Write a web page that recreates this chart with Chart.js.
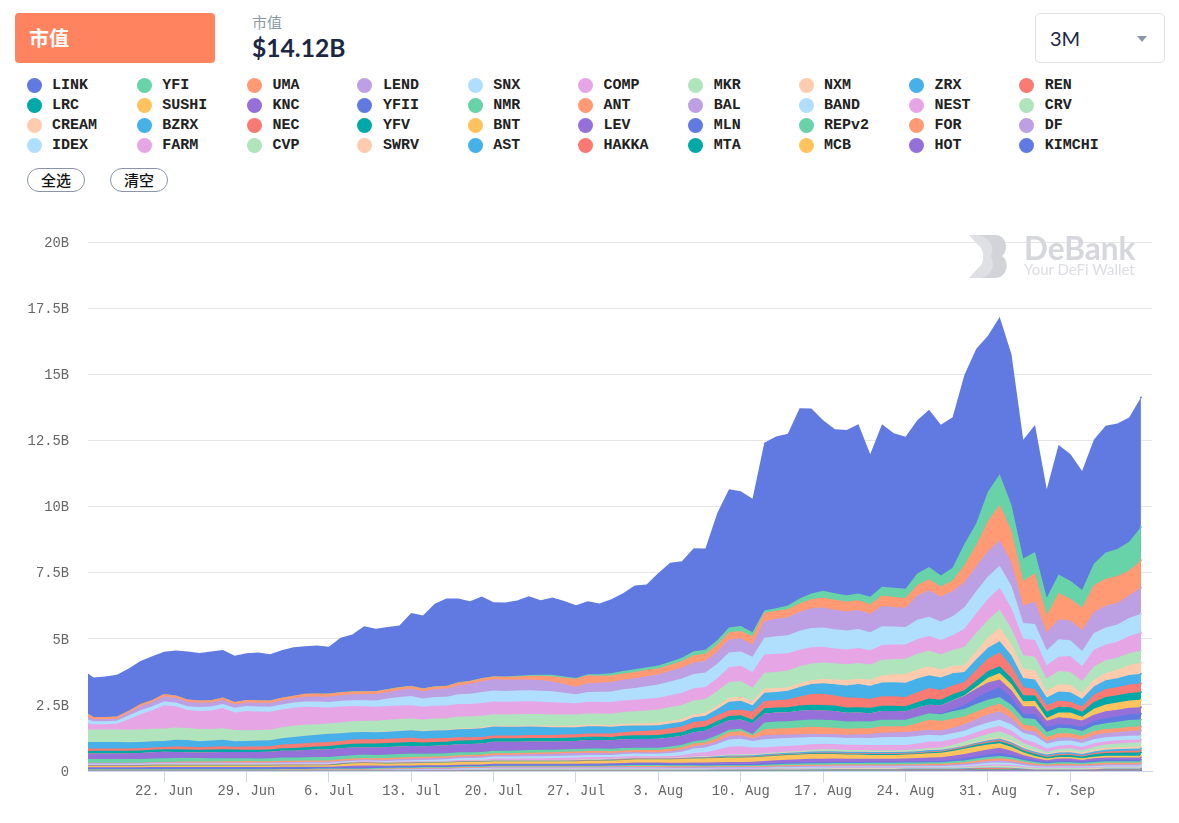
<!DOCTYPE html>
<html><head><meta charset="utf-8">
<script src="https://cdn.jsdelivr.net/npm/chart.js@4"></script>
<style>
html,body{margin:0;padding:0;background:#fff;width:1179px;height:823px;overflow:hidden}
body{position:relative;font-family:Lato,"Noto Sans CJK SC",sans-serif}
.abs{position:absolute}
#tab{left:15px;top:13px;width:200px;height:50px;background:#ff835f;border-radius:4px;color:#fff;font:700 20px/50px Lato,"Noto Sans CJK SC";text-indent:14px}
#cap{left:252px;top:12px;color:#8a9aa8;font:15px/20px "Noto Sans CJK SC"}
#val{left:252px;top:32px;color:#1b2744;font:700 24.6px/32px Lato}
#sel{left:1035px;top:13px;width:128px;height:48px;border:1.5px solid #dfe1e6;border-radius:5px;color:#1b2744;font:20px/48px Lato;text-indent:14px}
#sel i{position:absolute;right:17px;top:22px;border:5px solid transparent;border-top:6px solid #8d96ab;border-bottom:0}
.dot{position:absolute;width:15px;height:15px;border-radius:50%}
.lab{position:absolute;font:700 15px/16px "Liberation Mono";color:#222;white-space:pre}
.btn{position:absolute;top:168px;width:56px;height:22px;border:1.5px solid #8a93ab;border-radius:12px;text-align:center;color:#111;font:500 15px/22px "Noto Sans CJK SC"}
#chart{position:absolute;left:0;top:230px}
#wm{left:969px;top:235px;width:170px;height:45px}
</style></head><body>
<div class="abs" id="tab">市值</div>
<div class="abs" id="cap">市值</div>
<div class="abs" id="val">$14.12B</div>
<div class="abs" id="sel">3M<i></i></div>
<div id="legend"></div>
<div class="btn" style="left:27px">全选</div>
<div class="btn" style="left:110px">清空</div>
<canvas id="chart" width="1179" height="593"></canvas>
<svg class="abs" id="wm" viewBox="0 0 170 45">
<path d="M0 0H15C30 0 30 43 15 43H0L9 33C16 30 16 13 9 10Z" fill="#dfe0e5"/>
<path d="M8 0H26C38 0 40 16 33 21C41 26 39 43 26 43H12C24 40 26 30 22 21C26 12 22 3 8 0Z" fill="#d2d4da"/>
<text x="55" y="25" font-family="Lato" font-weight="700" font-size="31.5" fill="#d5d7dd">DeBank</text>
<text x="55" y="40" font-family="Lato" font-size="15" fill="#dcdde2">Your DeFi Wallet</text>
</svg>
<script>
const names=["LINK","YFI","UMA","LEND","SNX","COMP","MKR","NXM","ZRX","REN","LRC","SUSHI","KNC","YFII","NMR","ANT","BAL","BAND","NEST","CRV","CREAM","BZRX","NEC","YFV","BNT","LEV","MLN","REPv2","FOR","DF","IDEX","FARM","CVP","SWRV","AST","HAKKA","MTA","MCB","HOT","KIMCHI"];
const palette=["#617ae1","#68d2a8","#ff9a75","#bda0e3","#b0dffd","#e6a6e6","#b0e4bd","#ffcbae","#45b1e8","#f87a72","#00a8a8","#ffc35d","#9570d8"];
// days relative to the 22 Jun tick
const days=[-6.46,-6,-5,-4,-3,-2,-1,0,1,2,3,4,5,6,7,8,9,10,11,12,13,14,15,16,17,18,19,20,21,22,23,24,25,26,27,28,29,30,31,32,33,34,35,36,37,38,39,40,41,42,43,44,45,46,47,48,49,50,51,52,53,54,55,56,57,58,59,60,61,62,63,64,65,66,67,68,69,70,71,72,73,74,75,76,77,78,79,80,81,82,83];
const tickDays=[0,7,14,21,28,35,42,49,56,63,70,77];
const tickLabels=["22. Jun","29. Jun","6. Jul","13. Jul","20. Jul","27. Jul","3. Aug","10. Aug","17. Aug","24. Aug","31. Aug","7. Sep"];
const yTicks=[0,250,500,750,1000,1250,1500,1750,2000];
// market cap per token, unit = $10M
const LINK=[152, 150,154,158,160,162,165,160, 170,181,180,184,180,175,177, 180,175,180,183,180,182,177, 205,215,245,235,235,233,275, 275,312,330,317,300,308,280, 280,285,298,282,293,285,275, 276,268,280,295,317,313,350, 375,365,390,383,480,523,510, 505,635,650,650,720,700,645, 620,625,640,540,615,585,575, 580,595,570,570,640,660,590, 595,570,450,480,410,490,480, 450,470,480,475,470,490];
const YFI=[0, 0,0,0,0,0,0,0, 0,0,0,0,0,0,0, 0,0,0,0,0,0,1, 1,1,1,1,1,1,1, 1,1,1,1,1,1,1, 1,2,3,4,5,5,3, 4,6,9,9,10,10,11, 11,13,15,15,16,18,19, 15,8,10,14,18,22,25, 25,24,26,28,33,34,35, 43,46,42,48,79,82,110, 115,97,85,80,66,70,68, 66,80,99,102,109,125];
const UMA=[12, 8,8,8,8,9,9,9, 9,9,9,9,9,9,10, 10,10,10,10,11,11,11, 11,11,11,11,10,10,10, 10,10,10,11,11,11,10, 12,12,14,16,20,24,30, 30,26,24,24,24,24,23, 23,24,27,27,27,27,28, 31,32,30,30,32,34,38, 38,37,37,36,40,38,37, 40,42,39,40,66,80,115, 135,120,94,108,66,100,82, 85,102,103,102,95,104];
const LEND=[10, 8,8,8,10,15,15,19, 18,17,16,15,15,13,13, 14,14,15,16,18,19,20, 21,22,23,24,25,27,28, 28,30,31,34,38,41,43, 42,41,40,40,37,33,29, 33,34,36,36,37,38,38, 40,42,44,44,46,50,50, 47,63,66,68,72,75,76, 74,72,72,70,76,74,73, 92,100,93,95,94,95,96, 96,90,65,85,67,75,75, 80,80,82,82,85,99];
const SNX=[15, 11,11,11,14,15,15,14, 14,14,15,15,16,18,19, 19,19,19,20,20,21,21, 22,22,23,24,28,32,35, 31,33,33,36,38,42,42, 41,42,42,42,42,38,34, 37,38,40,42,44,48,50, 52,54,54,55,55,55,54, 57,63,66,68,72,73,73, 72,72,72,68,71,68,66, 72,73,70,72,82,84,85, 84,84,59,60,57,67,60, 58,63,64,65,68,71];
const COMP=[23, 20,20,22,40,58,70,88, 80,68,68,70,76,66,73, 70,68,67,68,68,65,60, 60,58,55,53,52,51,50, 48,48,48,48,48,48,48, 48,48,48,46,46,44,42, 44,44,44,44,44,44,44, 45,46,46,46,48,56,57, 60,69,69,66,63,61,59, 56,56,56,54,56,55,54, 56,55,54,56,69,74,80, 82,77,63,64,50,54,60, 55,64,60,60,64,69];
const MKR=[47, 47,47,47,47,47,47,47, 47,46,46,44,44,42,40, 40,40,42,42,42,40,38, 40,40,41,42,44,45,44, 43,44,44,45,44,43,43, 43,44,44,44,43,43,42, 43,43,44,45,46,48,50, 52,53,53,52,55,60,59, 50,60,62,63,64,64,63, 62,60,60,58,60,58,57, 60,60,58,60,69,70,67, 67,60,52,51,47,50,50, 46,50,48,46,46,45];
const NXM=[0, 0,0,0,0,0,0,0, 0,0,0,0,0,0,0, 0,0,0,0,0,0,1, 1,1,1,1,1,1,1, 2,2,2,3,3,4,4, 4,4,4,5,5,5,6, 6,6,6,7,8,9,10, 10,11,11,11,13,15,16, 16,16,14,13,14,14,16, 18,20,20,22,26,30,34, 34,34,30,28,25,30,38, 53,42,34,35,25,27,27, 22,25,28,32,38,42];
const ZRX=[25, 25,25,25,24,24,24,23, 25,25,23,23,24,21,21, 22,22,24,27,28,29,31, 29,28,28,27,27,27,28, 28,29,29,30,31,33,34, 33,33,32,31,30,28,27, 27,27,25,24,22,20,18, 18,18,18,19,24,32,34, 24,31,31,33,36,38,40, 42,46,52,50,52,53,54, 52,48,47,46,38,40,40, 42,40,34,37,29,34,36, 29,31,33,34,36,37];
const REN=[9, 8,8,8,8,8,9,9, 11,11,10,11,12,11,13, 13,13,14,15,15,15,15, 15,16,16,16,16,16,16, 14,14,14,13,12,11,10, 10,10,11,11,11,12,12, 12,12,13,14,15,17,19, 20,20,22,22,22,22,21, 31,28,28,30,34,40,42, 38,38,36,34,36,36,35, 38,40,37,34,31,40,48, 53,45,31,23,25,24,21, 20,28,30,30,32,33];
const LRC=[10, 11,11,11,10,10,9,9, 10,10,10,10,10,9,8, 8,8,9,10,11,12,13, 13,14,14,15,15,15,15, 14,14,14,14,14,14,13, 13,13,13,13,13,13,13, 13,13,13,13,14,14,14, 15,15,16,16,16,16,16, 13,19,19,19,20,20,21, 21,20,20,20,20,20,19, 21,23,21,22,19,23,25, 25,24,23,21,23,22,20, 19,25,28,28,28,28];
const SUSHI=[0, 0,0,0,0,0,0,0, 0,0,0,0,0,0,0, 0,0,0,0,0,0,0, 0,0,0,0,0,0,0, 0,0,0,0,0,0,0, 0,0,0,0,0,0,0, 0,0,0,0,0,0,0, 0,0,0,0,0,0,0, 0,0,0,0,0,0,0, 0,0,0,0,0,0,0, 0,0,0,1,2,8,18, 25,22,19,20,11,18,21, 14,23,26,27,28,29];
const KNC=[21, 21,21,21,22,23,24,25, 23,21,21,23,24,24,24, 25,25,26,26,27,28,29, 29,29,28,28,29,29,29, 29,30,30,30,31,32,34, 34,33,33,32,32,31,31, 32,32,32,33,33,33,34, 34,34,34,34,38,36,35, 41,34,34,34,36,36,35, 35,33,33,32,33,33,32, 33,32,31,33,35,35,35, 29,28,28,30,23,25,25, 24,25,25,25,24,24];
const YFII=[0, 0,0,0,0,0,0,0, 0,0,0,0,0,0,0, 0,0,0,0,0,0,0, 0,0,0,0,0,0,0, 0,0,0,0,0,0,0, 0,0,0,0,0,0,0, 0,0,0,0,0,0,0, 0,0,0,0,0,0,0, 0,0,0,0,0,0,0, 0,0,0,0,0,0,0, 0,0,3,8,15,22,30, 37,28,16,18,19,14,13, 16,16,20,21,22,22];
const NMR=[14, 14,14,14,14,14,14,14, 14,14,13,12,11,11,10, 10,11,12,12,12,13,13, 13,13,13,13,13,13,13, 11,11,11,11,10,10,10, 10,10,10,10,9,9,9, 9,9,9,9,9,9,9, 9,9,9,9,10,9,9, 6,26,26,26,27,28,28, 28,27,26,25,25,25,25, 25,25,26,28,29,30,28, 25,25,25,28,19,21,19, 19,21,22,24,26,27];
const ANT=[1, 1,1,1,1,1,1,2, 3,4,4,4,5,5,6, 5,5,5,5,5,5,5, 5,5,5,5,6,6,6, 6,6,6,6,6,6,6, 6,6,6,6,6,6,6, 7,7,7,7,7,8,8, 9,9,10,10,12,15,16, 10,23,24,24,26,26,26, 24,23,23,22,24,22,21, 30,38,36,35,29,28,28, 29,24,19,20,16,16,15, 14,15,15,15,16,15];
const BAL=[3, 3,3,3,3,3,3,3, 3,3,3,3,3,3,3, 3,3,4,4,4,4,4, 4,4,4,4,5,5,6, 6,6,6,6,6,6,6, 6,7,7,8,8,9,9, 8,8,7,7,6,6,6, 7,8,9,10,11,13,13, 10,15,14,13,12,12,11, 12,12,13,15,17,18,19, 19,19,19,20,25,27,30, 32,25,13,16,9,13,13, 12,16,16,16,18,19];
const BAND=[2, 2,2,2,2,2,2,2, 2,2,2,2,2,2,2, 2,2,2,2,3,3,3, 3,3,3,3,3,4,4, 4,5,5,6,6,7,8, 8,8,8,8,8,8,8, 8,8,8,9,9,9,9, 11,13,17,18,22,27,28, 25,30,30,30,30,28,26, 26,26,27,27,30,31,31, 28,25,22,22,21,22,23, 23,23,23,25,19,18,16, 15,15,15,15,15,16];
const NEST=[2, 2,2,2,2,2,2,2, 2,2,2,2,2,2,2, 2,2,2,2,2,2,2, 2,2,3,3,3,3,3, 3,3,3,4,4,4,5, 5,5,6,6,7,8,8, 8,8,7,7,7,6,6, 7,9,13,15,21,30,31, 25,23,22,21,21,21,21, 20,20,20,20,20,20,19, 22,25,23,22,19,20,21, 21,20,15,18,13,13,13, 13,14,13,12,11,10];
const CRV=[1, 1,1,1,1,1,1,1, 1,1,1,1,1,1,1, 1,1,1,1,1,1,1, 1,1,1,1,1,1,1, 1,1,1,1,1,1,1, 1,1,1,1,1,1,1, 1,1,1,1,1,1,1, 1,1,2,2,2,2,2, 2,2,3,3,3,4,5, 5,4,4,4,4,4,4, 5,6,7,9,13,16,19, 21,18,13,12,6,8,9, 8,11,13,14,15,15];
const CREAM=[0, 0,0,0,0,0,0,0, 0,0,0,0,0,0,0, 0,0,0,0,0,0,0, 0,0,0,0,0,0,0, 0,0,0,0,0,0,1, 1,1,1,1,1,1,1, 1,1,1,1,1,1,1, 1,1,1,1,1,1,2, 2,2,2,2,2,2,2, 2,2,2,2,2,2,2, 2,2,2,3,3,4,5, 6,6,6,5,4,5,6, 6,6,7,7,8,8];
const BZRX=[0, 0,0,0,0,0,0,0, 0,0,0,0,0,0,0, 0,0,0,0,0,0,0, 0,0,0,0,0,0,1, 1,1,1,1,1,1,1, 1,1,1,1,1,1,1, 1,1,1,1,1,1,1, 1,1,2,2,3,4,4, 4,4,4,4,5,5,5, 5,5,5,5,5,5,5, 5,5,4,3,3,4,4, 5,5,5,5,5,6,6, 5,6,6,7,7,7];
const NEC=[2, 2,2,2,2,2,2,2, 2,2,2,2,2,2,2, 2,2,2,2,2,2,2, 2,2,2,2,2,2,2, 1,1,1,1,1,1,1, 1,1,1,1,1,1,2, 2,2,2,2,2,2,2, 2,2,2,2,2,2,2, 2,2,2,2,2,2,3, 3,3,3,3,3,3,3, 3,3,3,4,4,4,5, 5,5,4,4,4,4,4, 4,5,6,7,7,8];
const YFV=[1, 1,1,1,1,1,1,1, 1,1,1,1,1,1,1, 1,1,1,1,1,1,1, 1,1,1,1,1,1,1, 1,1,1,1,1,1,1, 1,1,1,1,1,1,1, 1,1,1,1,1,1,1, 1,1,1,1,2,2,2, 2,2,2,2,2,3,3, 3,3,3,3,3,3,3, 3,4,4,4,5,6,7, 8,8,7,7,6,7,8, 7,9,10,11,12,12];
const BNT=[5, 5,5,5,5,5,6,6, 6,6,6,6,6,6,6, 6,6,6,6,6,6,6, 8,9,9,8,8,8,8, 9,9,10,10,10,10,10, 10,10,10,10,10,10,10, 11,11,11,12,12,12,12, 13,14,15,16,16,17,17, 17,17,17,18,18,18,18, 17,16,16,15,15,15,15, 15,16,17,18,20,20,19, 17,14,10,8,6,6,6, 6,6,7,7,7,7];
const LEV=[2, 2,2,2,2,2,2,2, 2,2,2,2,2,2,2, 2,2,2,2,2,2,2, 4,6,7,5,3,3,3, 2,2,2,2,2,2,2, 2,2,2,2,2,2,2, 3,3,3,3,4,4,4, 4,4,5,6,7,8,8, 9,10,11,12,12,13,13, 13,12,12,11,11,11,11, 12,13,14,15,17,18,19, 20,16,12,9,7,8,8, 7,8,8,8,8,8];
const MLN=[5, 5,5,5,5,5,6,6, 6,6,6,6,6,6,6, 6,6,6,6,6,5,5, 5,5,5,5,5,5,5, 5,5,5,5,5,5,5, 5,5,5,5,5,5,5, 5,5,5,5,5,5,5, 5,5,5,5,4,4,4, 4,4,4,4,4,4,4, 4,4,4,4,4,4,4, 5,5,5,6,7,8,9, 11,9,7,6,5,6,6, 5,6,6,6,6,6];
const REPv2=[2, 2,2,2,2,2,2,2, 2,2,2,2,2,2,2, 2,2,2,2,2,2,2, 2,2,2,3,3,3,3, 3,3,3,3,3,3,3, 3,3,3,3,3,3,3, 3,3,3,4,4,4,4, 4,4,4,4,4,4,4, 4,5,5,5,5,5,5, 5,5,5,6,6,6,6, 6,6,6,7,7,8,8, 9,8,7,6,5,6,6, 5,6,6,6,6,6];
const FOR=[1, 1,1,1,1,1,1,1, 1,1,1,1,1,1,1, 1,1,2,2,2,2,2, 2,2,2,2,2,2,2, 3,3,3,3,3,3,3, 3,3,3,3,3,3,3, 3,3,3,3,4,4,4, 4,4,4,3,3,3,3, 3,4,4,4,4,4,4, 4,4,4,4,4,4,4, 4,5,5,5,6,7,7, 8,7,6,5,4,5,5, 4,5,5,5,5,5];
const DF=[1, 1,1,1,1,1,1,1, 1,1,1,1,1,1,1, 1,1,1,1,1,1,1, 1,1,1,1,2,2,2, 2,2,2,2,2,2,2, 2,2,2,2,2,2,2, 2,2,3,3,3,3,3, 3,3,3,3,3,3,3, 3,3,3,4,4,4,4, 4,4,4,4,4,4,4, 4,4,4,5,5,6,7, 8,7,6,5,4,5,5, 4,5,5,5,5,5];
const IDEX=[1, 1,1,1,1,1,1,1, 1,1,1,1,1,1,1, 1,1,1,1,1,1,1, 1,1,1,1,1,2,2, 2,2,2,2,2,2,2, 2,2,2,2,2,2,2, 2,2,2,2,2,2,2, 2,2,2,2,2,2,2, 2,2,3,3,3,3,3, 3,3,3,3,3,3,3, 3,3,3,4,4,5,6, 7,6,5,4,3,3,3, 3,3,4,4,4,4];
const FARM=[0, 0,0,0,0,0,0,0, 0,0,0,0,0,0,0, 0,0,0,0,0,1,1, 1,1,1,1,1,1,1, 1,1,1,2,2,2,2, 2,2,2,2,2,2,2, 2,2,2,2,2,2,2, 2,2,2,2,2,2,2, 2,2,2,2,3,3,3, 3,3,3,3,3,3,3, 3,3,3,3,4,4,5, 5,5,4,3,3,3,3, 3,3,3,3,3,3];
const CVP=[0, 0,0,0,0,0,0,0, 0,0,0,0,0,0,0, 0,0,0,0,0,0,0, 0,0,0,1,1,1,1, 1,1,1,2,2,2,2, 2,2,2,2,2,2,2, 2,2,2,2,2,2,2, 1,1,1,1,1,1,1, 1,1,2,2,2,2,2, 2,2,2,2,2,2,2, 2,2,2,3,3,3,4, 4,4,3,3,2,3,3, 3,3,3,3,3,3];
const SWRV=[0, 0,0,0,0,0,0,0, 0,0,0,0,0,0,0, 0,0,0,0,0,0,0, 0,0,0,0,0,0,0, 0,0,0,0,0,0,1, 1,1,1,1,1,1,1, 1,1,1,1,1,1,1, 1,1,1,1,1,1,1, 1,1,1,1,1,1,1, 1,1,1,1,1,1,1, 1,1,1,1,1,2,3, 3,3,2,2,2,2,2, 2,2,2,2,2,2];
const AST=[1, 1,1,1,1,1,1,1, 1,1,1,1,1,1,1, 1,1,1,1,1,1,1, 1,1,1,1,1,1,1, 1,1,1,1,1,1,1, 1,1,1,1,1,1,1, 1,1,1,1,1,1,1, 1,1,1,1,1,1,1, 1,1,1,1,1,2,2, 2,2,2,2,2,2,2, 2,2,2,2,2,2,2, 2,2,2,1,1,1,1, 1,1,2,2,2,2];
const HAKKA=[0, 0,0,0,0,0,0,0, 0,0,0,0,0,0,0, 0,0,0,0,0,0,0, 0,0,0,0,0,0,0, 1,1,1,1,1,1,1, 1,1,1,1,1,1,1, 1,1,1,1,1,1,1, 1,1,1,1,1,1,1, 1,1,1,1,1,1,1, 2,2,2,2,2,2,2, 2,2,2,2,3,3,4, 4,3,2,1,1,1,1, 1,2,2,2,2,2];
const MTA=[0, 0,0,0,0,0,0,0, 0,0,0,0,0,0,0, 0,0,0,0,0,0,0, 0,0,0,0,0,0,0, 0,0,0,0,1,1,1, 1,1,1,1,1,1,1, 1,1,1,1,1,1,1, 1,1,1,1,2,2,2, 2,2,2,2,2,2,2, 2,2,2,2,2,2,2, 2,2,2,2,2,2,2, 2,2,2,1,1,1,1, 1,1,2,2,2,2];
const MCB=[0, 0,0,0,0,0,0,0, 0,0,0,0,0,0,0, 0,0,0,0,0,0,0, 0,0,0,0,0,0,0, 0,0,0,0,0,0,1, 1,1,1,1,1,1,1, 1,1,1,1,1,1,1, 1,1,1,1,1,1,1, 1,1,1,1,1,1,1, 1,1,1,1,1,1,1, 1,1,1,1,1,2,2, 2,2,1,1,1,1,1, 1,1,1,1,1,1];
const HOT=[1, 1,1,1,1,1,1,1, 1,1,1,1,1,1,1, 1,1,1,1,1,1,1, 1,1,1,1,1,1,1, 1,1,1,1,1,1,1, 1,1,1,1,1,1,1, 1,1,1,1,1,1,1, 1,1,1,1,1,1,1, 1,1,1,1,1,1,1, 1,1,1,1,1,1,1, 1,1,1,1,1,2,2, 2,2,1,1,1,1,1, 1,1,1,1,1,1];
const KIMCHI=[0, 0,0,0,0,0,0,0, 0,0,0,0,0,0,0, 0,0,0,0,0,0,0, 0,0,0,0,0,0,0, 0,0,0,0,0,0,0, 0,0,0,0,0,0,0, 0,0,0,0,0,0,0, 0,0,0,0,0,0,0, 0,0,0,0,0,0,0, 0,0,0,0,0,0,1, 1,1,1,1,1,1,1, 1,1,1,1,1,1,1, 1,1,1,1,1,1];
const values=[LINK,YFI,UMA,LEND,SNX,COMP,MKR,NXM,ZRX,REN,LRC,SUSHI,KNC,YFII,NMR,ANT,BAL,BAND,NEST,CRV,CREAM,BZRX,NEC,YFV,BNT,LEV,MLN,REPv2,FOR,DF,IDEX,FARM,CVP,SWRV,AST,HAKKA,MTA,MCB,HOT,KIMCHI];

const lg=document.getElementById('legend');
names.forEach((n,i)=>{
  const col=i%10,row=Math.floor(i/10),x=34+110.3*col,y=85+20*row;
  const d=document.createElement('div');d.className='dot';d.style.cssText=`left:${x-7.5}px;top:${y-7.5}px;background:${palette[i%13]}`;lg.appendChild(d);
  const l=document.createElement('div');l.className='lab';l.textContent=n;l.style.cssText=`left:${x+18}px;top:${y-7}px`;lg.appendChild(l);
});
const datasets=names.map((n,i)=>({label:n,data:days.map((d,k)=>({x:d,y:values[i][k]})),backgroundColor:palette[i%13],borderColor:palette[i%13],borderWidth:0,pointRadius:c=>c.dataIndex===days.length-1?1:0,pointBackgroundColor:palette[i%13],pointBorderWidth:0,tension:0,fill:'origin'})).reverse();
const mono='"Liberation Mono"';
new Chart(document.getElementById('chart'),{type:'line',data:{datasets},options:{
  responsive:false,animation:false,
  layout:{padding:{left:0,right:27,top:12.5,bottom:0},autoPadding:false},
  plugins:{legend:{display:false},tooltip:{enabled:false}},
  scales:{
    x:{type:'linear',min:-6.46,max:83.94,
      afterFit:s=>{s.height=52},
      afterBuildTicks:s=>{s.ticks=tickDays.map(v=>({value:v}))},
      grid:{drawOnChartArea:false,drawTicks:true,tickLength:11,tickColor:'#ccd6eb',tickWidth:1},
      border:{color:'#ccd6eb'},
      ticks:{autoSkip:false,maxRotation:0,minRotation:0,padding:1,color:'#666',font:{family:mono,size:13.8},callback:(v)=>tickLabels[tickDays.indexOf(v)]}},
    y:{stacked:true,min:0,max:2000,
      afterFit:s=>{s.width=88;s.paddingTop=0;s.paddingBottom=0},
      afterBuildTicks:s=>{s.ticks=yTicks.map(v=>({value:v}))},
      grid:{color:'#e6e6e6',drawTicks:false},
      border:{display:false},
      ticks:{padding:19,labelOffset:1,color:'#666',font:{family:mono,size:13.8},callback:v=>v===0?'0':(v/100)+'B'}}
  }}});
</script></body></html>
